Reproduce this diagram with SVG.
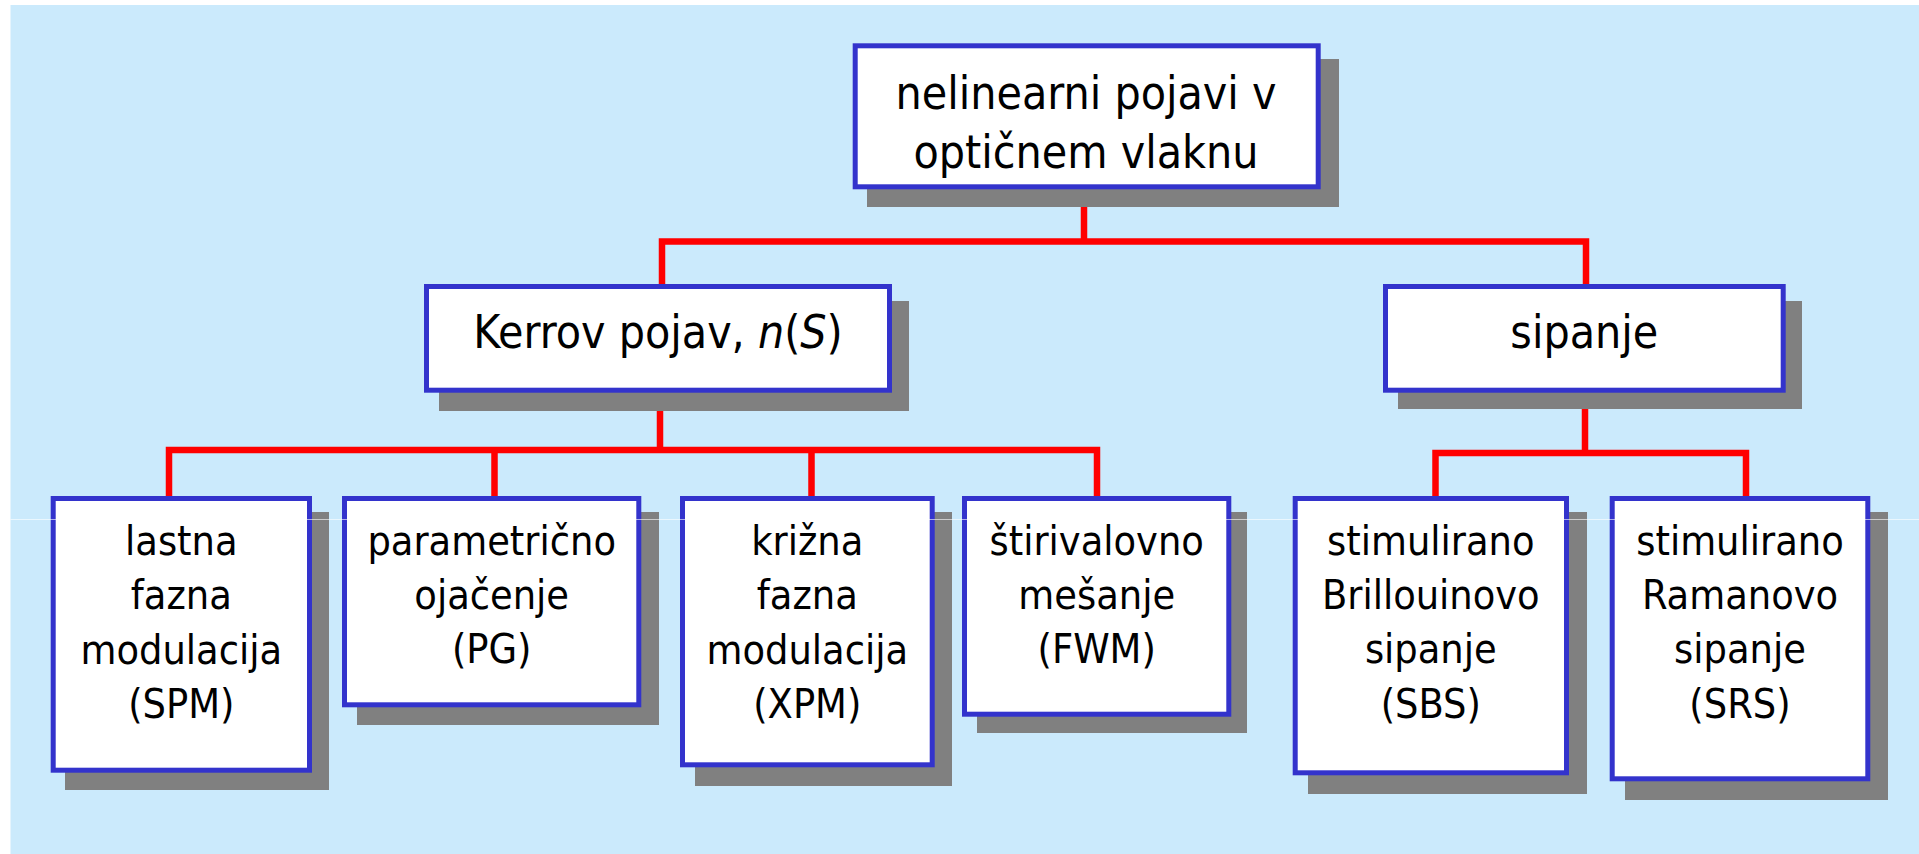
<svg xmlns="http://www.w3.org/2000/svg" width="1919" height="854" viewBox="0 0 1919 854">
<style>
.sh{fill:#808080}
.bx{fill:#ffffff;stroke:#3333cc;stroke-width:5}
.t{font-family:"DejaVu Sans Condensed","DejaVu Sans",sans-serif;font-stretch:condensed;fill:#000;text-anchor:middle}
.t1{font-size:46px}
.t2{font-size:41px}
.cn{fill:none;stroke:#ff0000;stroke-width:6.5;stroke-linejoin:miter;stroke-linecap:butt}
</style>
<rect x="0" y="0" width="1919" height="854" fill="#ffffff"/>
<rect x="10.5" y="5" width="1908.5" height="849" fill="#cbeafc"/>
<g id="connectors">
<path class="cn" d="M1084,189 V241.5 M662,288 V241.5 H1586 V288"/>
<path class="cn" d="M660,392 V450 M169,498 V450 H1097 V498 M494.5,450 V498 M811.5,450 V498"/>
<path class="cn" d="M1585,392 V453 M1435.5,498 V453 H1746 V498"/>
</g>
<g id="n-root">
<rect class="sh" x="867" y="59" width="472" height="148"/>
<rect class="bx" x="855.2" y="45.8" width="463" height="141"/>
<text class="t t1" x="1086" y="109">nelinearni pojavi v</text>
<text class="t t1" x="1086" y="168">optičnem vlaknu</text>
</g>
<g id="n-kerr">
<rect class="sh" x="439" y="301" width="470" height="110"/>
<rect class="bx" x="426.5" y="286.5" width="463" height="103.7"/>
<text class="t t1" x="658" y="348.3">Kerrov pojav, <tspan font-style="italic">n</tspan>(<tspan font-style="italic">S</tspan>)</text>
</g>
<g id="n-sipanje">
<rect class="sh" x="1398" y="301" width="404" height="108"/>
<rect class="bx" x="1385.5" y="286.5" width="397.7" height="103.7"/>
<text class="t t1" x="1584.3" y="348.3">sipanje</text>
</g>
<g id="n-spm">
<rect class="sh" x="65" y="512" width="264" height="278"/>
<rect class="bx" x="53.2" y="498.5" width="256.3" height="271.7"/>
<text class="t t2" x="181.3" y="555">lastna</text>
<text class="t t2" x="181.3" y="609.3">fazna</text>
<text class="t t2" x="181.3" y="664">modulacija</text>
<text class="t t2" x="181.3" y="718">(SPM)</text>
</g>
<g id="n-pg">
<rect class="sh" x="357" y="512" width="302" height="213"/>
<rect class="bx" x="344.5" y="498.5" width="294.3" height="206.3"/>
<text class="t t2" x="491.7" y="555">parametrično</text>
<text class="t t2" x="491.7" y="608.5">ojačenje</text>
<text class="t t2" x="491.7" y="663">(PG)</text>
</g>
<g id="n-xpm">
<rect class="sh" x="695" y="512" width="257" height="274"/>
<rect class="bx" x="682.5" y="498.5" width="249.7" height="266.3"/>
<text class="t t2" x="807.3" y="555">križna</text>
<text class="t t2" x="807.3" y="609.3">fazna</text>
<text class="t t2" x="807.3" y="664">modulacija</text>
<text class="t t2" x="807.3" y="718">(XPM)</text>
</g>
<g id="n-fwm">
<rect class="sh" x="977" y="512" width="270" height="221"/>
<rect class="bx" x="964.5" y="498.5" width="264.3" height="215.7"/>
<text class="t t2" x="1096.7" y="555">štirivalovno</text>
<text class="t t2" x="1096.7" y="609">mešanje</text>
<text class="t t2" x="1096.7" y="663">(FWM)</text>
</g>
<g id="n-sbs">
<rect class="sh" x="1308" y="512" width="279" height="282"/>
<rect class="bx" x="1295.2" y="498.5" width="271.3" height="274.3"/>
<text class="t t2" x="1430.8" y="555">stimulirano</text>
<text class="t t2" x="1430.8" y="609.3">Brillouinovo</text>
<text class="t t2" x="1430.8" y="663">sipanje</text>
<text class="t t2" x="1430.8" y="718">(SBS)</text>
</g>
<g id="n-srs">
<rect class="sh" x="1625" y="512" width="263" height="288"/>
<rect class="bx" x="1612.2" y="498.5" width="255.6" height="280.3"/>
<text class="t t2" x="1740" y="555">stimulirano</text>
<text class="t t2" x="1740" y="609.3">Ramanovo</text>
<text class="t t2" x="1740" y="663">sipanje</text>
<text class="t t2" x="1740" y="718">(SRS)</text>
</g>
<line x1="10.5" y1="519.5" x2="1919" y2="519.5" stroke="#ffffff" stroke-width="1" stroke-opacity="0.6"/>
</svg>
